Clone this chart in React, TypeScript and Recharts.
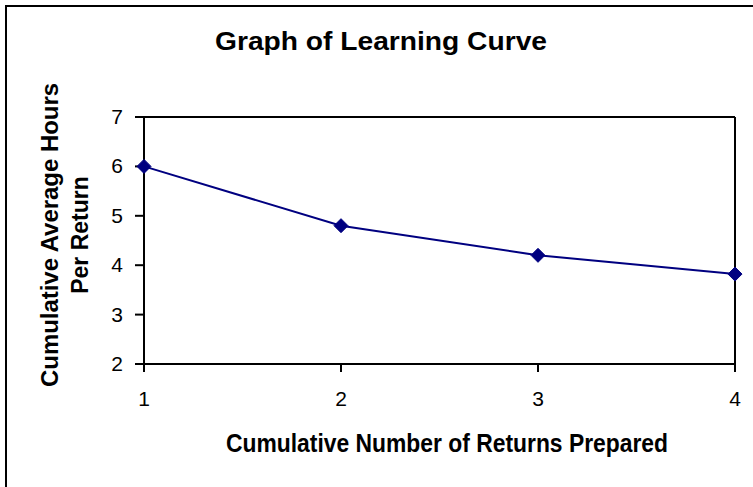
import { LineChart, Line, XAxis, YAxis, ReferenceLine } from 'recharts';

// Learning curve data
const returnsPrepared = [1, 2, 3, 4];
const avgHours = [6, 4.8, 4.2, 3.82];
const yTicks = [2, 3, 4, 5, 6, 7];

const title = 'Graph of Learning Curve';
const xTitle = 'Cumulative Number of Returns Prepared';
const yTitleLines = ['Cumulative Average Hours', 'Per Return'];

const NAVY = '#000080';
const FONT = '"Liberation Sans", Arial, sans-serif';

const data = returnsPrepared.map((n, i) => ({ n, hours: avgHours[i] }));

function Diamond(props: any) {
  const { cx, cy } = props;
  if (cx == null || cy == null) return null;
  const r = 7;
  return (
    <path
      d={`M${cx},${cy - r} L${cx + r},${cy} L${cx},${cy + r} L${cx - r},${cy} Z`}
      fill={NAVY}
      stroke={NAVY}
    />
  );
}

// tick labels drawn with our own text so the size sticks
function XTick(props: any) {
  const { x, y, payload } = props;
  return (
    <text x={x} y={y + 15} textAnchor="middle" fontSize={21} fontFamily={FONT} fill="#000">
      {payload.value}
    </text>
  );
}

function YTick(props: any) {
  const { x, y, payload } = props;
  return (
    <text x={x} y={y + 7} textAnchor="end" fontSize={21} fontFamily={FONT} fill="#000">
      {payload.value}
    </text>
  );
}

export default function App() {
  return (
    <div style={{ position: 'relative', width: 753, height: 487, background: '#fff', overflow: 'hidden' }}>
      <style>{'body{margin:0}'}</style>
      <div style={{ position: 'absolute', left: 0, top: 0 }}>
        <LineChart
          width={753}
          height={487}
          data={data}
          margin={{ top: 117, right: 18, bottom: 0, left: 0 }}
        >
          <XAxis
            dataKey="n"
            type="number"
            domain={[1, 4]}
            ticks={returnsPrepared}
            stroke="#000"
            strokeWidth={2}
            tickSize={8}
            tickMargin={19}
            tick={<XTick />}
            height={123}
          />
          <YAxis
            type="number"
            domain={[2, 7]}
            ticks={yTicks}
            interval={0}
            stroke="#000"
            strokeWidth={2}
            tickSize={9}
            tickMargin={12}
            width={144}
            tick={<YTick />}
          />
          <ReferenceLine y={7} stroke="#000" strokeWidth={2} />
          <ReferenceLine x={4} stroke="#000" strokeWidth={2} />
          <Line
            dataKey="hours"
            type="linear"
            stroke={NAVY}
            strokeWidth={2}
            dot={<Diamond />}
            activeDot={false}
            isAnimationActive={false}
          />
        </LineChart>
      </div>
      <svg style={{ position: 'absolute', left: 0, top: 0 }} width={753} height={487}>
        {/* frame: only top and left edges are visible in the crop */}
        <line x1={5} y1={6} x2={753} y2={6} stroke="#000" strokeWidth={2} />
        <line x1={6} y1={5} x2={6} y2={487} stroke="#000" strokeWidth={2} />
        <text
          x={381}
          y={50}
          textAnchor="middle"
          fontSize={25}
          fontWeight="bold"
          fontFamily={FONT}
          textLength={332}
          lengthAdjust="spacingAndGlyphs"
        >
          {title}
        </text>
        <text
          x={447}
          y={452}
          textAnchor="middle"
          fontSize={25}
          fontWeight="bold"
          fontFamily={FONT}
          textLength={442}
          lengthAdjust="spacingAndGlyphs"
        >
          {xTitle}
        </text>
        <text
          transform="translate(58,235) rotate(-90)"
          textAnchor="middle"
          fontSize={23}
          fontWeight="bold"
          fontFamily={FONT}
          textLength={304}
          lengthAdjust="spacingAndGlyphs"
        >
          {yTitleLines[0]}
        </text>
        <text
          transform="translate(88,235) rotate(-90)"
          textAnchor="middle"
          fontSize={23}
          fontWeight="bold"
          fontFamily={FONT}
        >
          {yTitleLines[1]}
        </text>
      </svg>
    </div>
  );
}
